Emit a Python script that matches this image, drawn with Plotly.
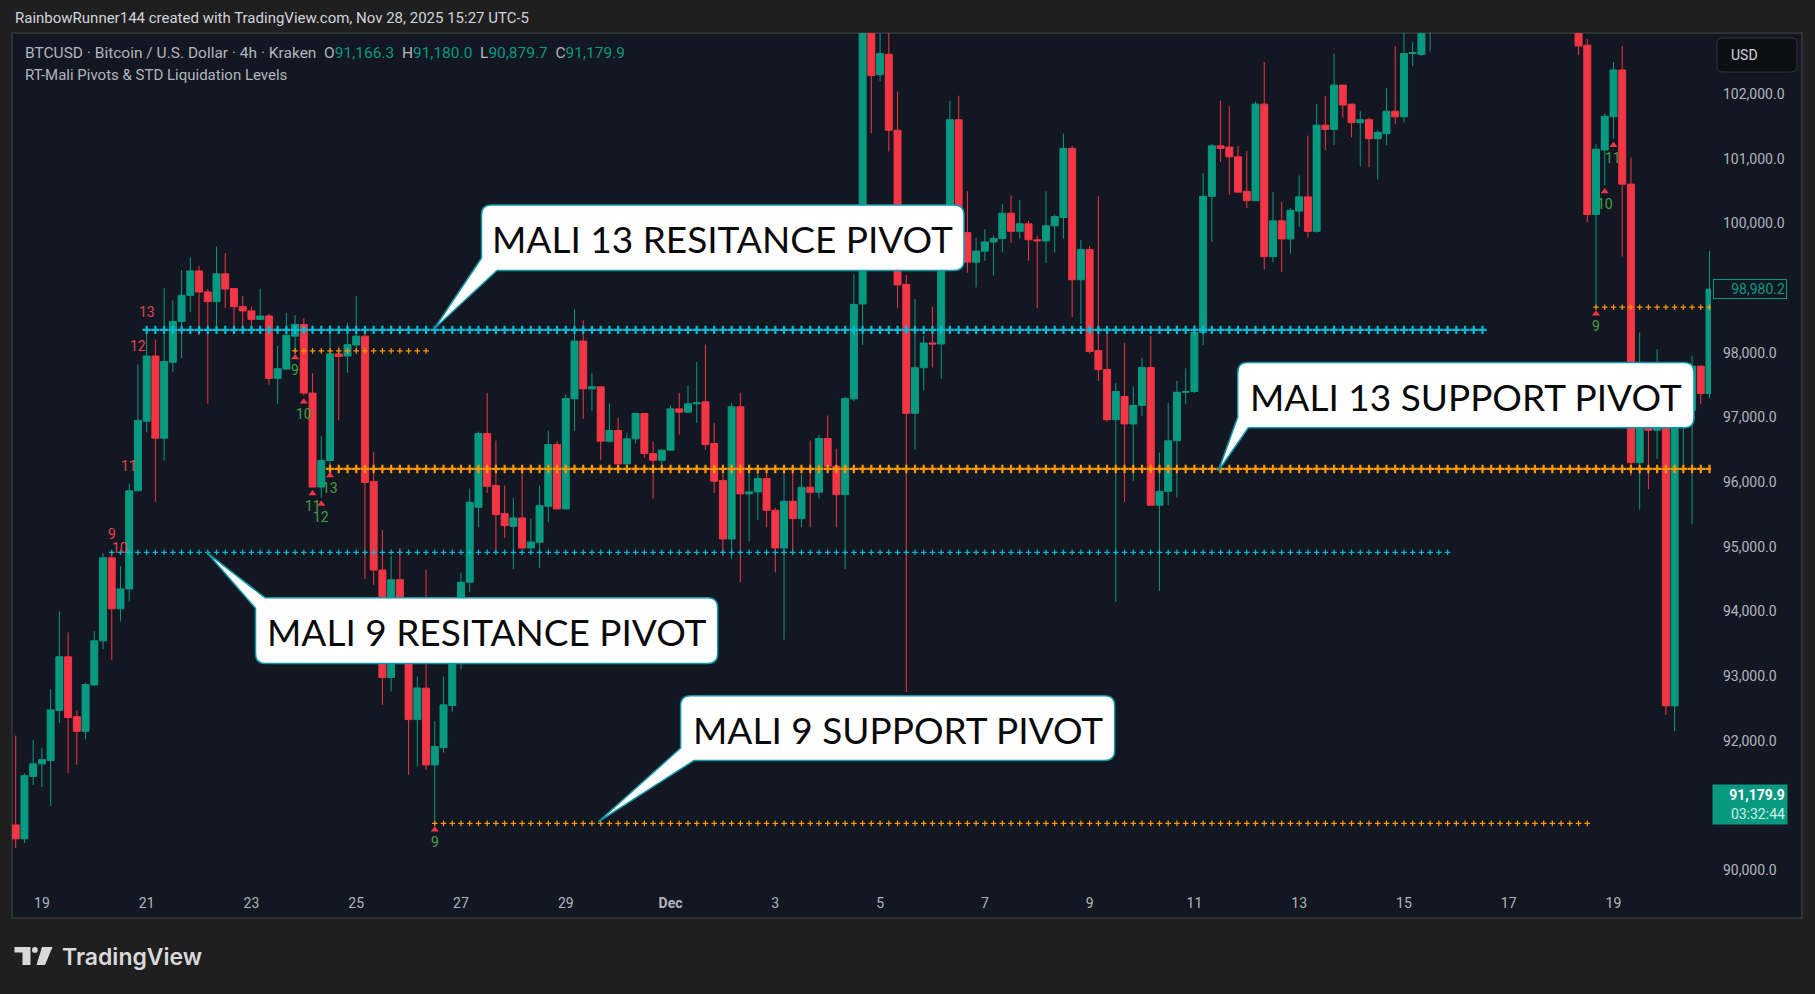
import pandas as pd
import plotly.graph_objects as go

# ---------------- data (BTCUSD 4h, Kraken) ----------------
BAR_START = "2024-11-18 12:00"      # first visible 4h bar (offset -3 from Nov 19 00:00)
FIRST_OFFSET = -3

OPEN = [
    90697, 90482, 91447, 91642, 91694, 92469, 93297, 92372, 92144, 92860,
    93544, 94828, 94039, 94346, 95864, 96939, 97948, 96678, 97851, 98483,
    98887, 99264, 98939, 98789, 99219, 98991, 98711, 98646, 98515, 98567,
    97603, 97746, 98255, 98437, 97375, 95922, 96333, 97981, 97948, 98118,
    98255, 96007, 94639, 92977, 94489, 93700, 92326, 92812, 91625, 91893,
    92544, 93199, 94450, 95609, 96750, 95945, 95511, 95315, 95444, 94980,
    95068, 95625, 96579, 95584, 97286, 98179, 97441, 97472, 96631, 96796,
    96280, 96667, 97059, 96440, 96337, 96492, 97131, 97080, 97209, 97240,
    96595, 96022, 95119, 97162, 95816, 95847, 96053, 95563, 94980, 95702,
    95434, 95919, 95842, 96672, 96244, 95805, 97286, 98754, 103200, 102299,
    102614, 101439, 99056, 97062, 97767, 98149, 98135, 99800, 101602, 99856,
    99400, 99570, 99713, 99765, 100156, 99876, 99993, 99745, 99726, 99961,
    100091, 101159, 99127, 99596, 98032, 97739, 96964, 97322, 96898, 97185,
    97771, 95641, 95856, 96638, 97387, 97400, 98312, 100417, 101198, 101179,
    101029, 100495, 100351, 101843, 99485, 100039, 99758, 100189, 100410, 99876,
    101518, 101452, 102137, 101843, 101557, 101602, 101309, 101387, 101733, 101648,
    102625, 102612, 103050, 103900, 104500, 104100, 105200, 106300, 105800, 106200,
    106900, 106500, 107300, 106800, 105900, 106200, 105600, 104800, 105400, 104900,
    102755, 100136, 101133, 101648, 102371, 100605, 96300, 97100, 96800, 97300,
    92539, 97000, 97107, 97791, 97368,
]
HIGH = [
    92078, 91492, 92013, 91890, 92795, 94000, 93675, 92469, 92900, 93694,
    94900, 94913, 94700, 95974, 97818, 98352, 98202, 98997, 98808, 99277,
    99473, 99343, 98984, 99642, 99538, 98991, 98873, 98711, 98984, 98600,
    98105, 98613, 98580, 98528, 97681, 96711, 98418, 98092, 98463, 98873,
    98300, 96463, 95258, 94854, 94979, 93900, 92993, 94644, 92307, 92993,
    93450, 94600, 95898, 96780, 97379, 96641, 95945, 95754, 96192, 95434,
    95945, 96796, 96630, 97353, 98669, 98499, 97689, 97472, 97214, 96992,
    96760, 97070, 97070, 96621, 96512, 97183, 97379, 97493, 97854, 98127,
    96915, 96130, 97224, 97379, 96270, 96192, 96177, 95600, 96177, 96177,
    96115, 96641, 96724, 97028, 96512, 97317, 99210, 103500, 103900, 103300,
    103100, 102039, 99200, 98828, 98260, 98710, 99950, 101895, 101973, 100495,
    99778, 99908, 99811, 100299, 100430, 100364, 100039, 99811, 100495, 100137,
    101387, 101198, 99746, 99648, 100417, 98325, 97530, 98149, 97478, 97921,
    98260, 96455, 97224, 97563, 97758, 98423, 100775, 101231, 101895, 101811,
    101198, 101114, 101882, 102495, 100482, 100332, 100234, 100742, 101355, 101843,
    101973, 102625, 102137, 101843, 101733, 101635, 101440, 102091, 102742, 103100,
    102800, 103200, 104300, 105000, 104900, 105600, 106500, 106600, 106700, 107200,
    107500, 107800, 108200, 107100, 106600, 106500, 105900, 105800, 105700, 105700,
    102850, 101224, 101700, 102495, 102742, 101016, 98312, 97700, 98052, 97600,
    97300, 97600, 97950, 97800, 99569,
]
LOW = [
    90339, 90417, 91316, 91284, 90990, 92274, 91499, 91629, 92020, 92847,
    93414, 93251, 93844, 94150, 95864, 96769, 95694, 96333, 97701, 97916,
    98626, 98274, 97212, 98418, 98691, 98385, 98385, 98385, 98515, 97505,
    97212, 97733, 98027, 97343, 95922, 95759, 96202, 96952, 97688, 98027,
    94495, 94411, 92554, 92762, 93300, 91475, 91600, 91548, 90722, 91816,
    92450, 93100, 94300, 95300, 95831, 94928, 95135, 94655, 94964, 94964,
    94670, 95377, 95584, 95584, 96786, 96977, 97095, 96337, 96605, 96280,
    96280, 96595, 96373, 95743, 96259, 96492, 96734, 97070, 96915, 96502,
    95831, 94851, 94809, 94448, 95083, 95408, 95300, 94603, 93561, 94928,
    95300, 95300, 95743, 96218, 95300, 94655, 97250, 98117, 101392, 102200,
    101110, 98690, 92750, 96505, 97418, 97771, 97596, 99700, 99700, 99237,
    99009, 99420, 99192, 99550, 99700, 99765, 99420, 98690, 99387, 99550,
    99765, 98553, 98443, 97986, 97563, 96931, 94143, 95693, 96019, 97022,
    95641, 94319, 95641, 95758, 97205, 97380, 98117, 99713, 100951, 100443,
    100482, 100234, 100351, 99290, 99400, 99244, 99530, 99941, 99778, 99856,
    101133, 101211, 101635, 101329, 100886, 100866, 100677, 101211, 101537, 101557,
    102430, 102590, 102658, 103500, 103700, 104000, 105000, 105400, 105500, 105900,
    106100, 106300, 106500, 105500, 105400, 105200, 104400, 104500, 104300, 102600,
    100019, 98703, 100592, 101309, 99485, 96097, 95576, 95888, 96358, 92400,
    92146, 96227, 95348, 97205, 97300,
]
CLOSE = [
    90482, 91459, 91642, 91707, 92476, 93297, 92359, 92144, 92867, 93544,
    94828, 94039, 94346, 95864, 96952, 97948, 96678, 97864, 98483, 98887,
    99264, 98939, 98789, 99219, 98984, 98711, 98646, 98515, 98567, 97603,
    97753, 98268, 98437, 97375, 95922, 96333, 97981, 97942, 98124, 98255,
    95994, 94639, 92977, 94489, 93700, 92326, 92815, 91625, 91909, 92554,
    93199, 94450, 95687, 96750, 95934, 95496, 95325, 95444, 94980, 95073,
    95635, 96579, 95584, 97291, 98179, 97441, 97472, 96631, 96796, 96280,
    96667, 97059, 96440, 96337, 96492, 97131, 97080, 97209, 97224, 96579,
    96012, 95119, 97162, 95816, 95847, 96053, 95563, 94980, 95702, 95434,
    95919, 95842, 96672, 96244, 95805, 97291, 98747, 103200, 102285, 102625,
    101439, 99048, 97062, 97767, 98149, 98135, 99800, 101602, 99856, 99400,
    99570, 99713, 99765, 100156, 99876, 99993, 99745, 99730, 99961, 100104,
    101159, 99127, 99596, 98019, 97739, 96964, 97400, 96898, 97185, 97771,
    95641, 95856, 96638, 97387, 97400, 98312, 100417, 101198, 101159, 101029,
    100482, 100351, 101843, 99485, 100039, 99758, 100202, 100410, 99876, 101518,
    101452, 102137, 101830, 101557, 101602, 101309, 101407, 101733, 101648, 102625,
    102640, 103050, 103900, 104500, 104100, 105200, 106300, 105800, 106200, 106900,
    106500, 107300, 106800, 105900, 106200, 105600, 104800, 105400, 104900, 102742,
    100136, 101146, 101654, 102371, 100605, 96300, 97100, 96800, 97300, 92539,
    97000, 97107, 97791, 97368, 98980,
]

# TD-style counts (bar offsets from Nov 19 00:00)
RED_COUNT_BARS = [8, 9, 10, 11, 12]
RED_COUNT_TEXT = ["9", "10", "11", "12", "13"]
GREEN_COUNT_BARS = [29, 30, 31, 32, 33, 45, 178, 179, 180]
GREEN_COUNT_TEXT = ["9", "10", "11", "12", "13", "9", "9", "10", "11"]

# pivot levels: start bar (level taken from that bar), end bar
PIVOT_FROM = [12, 8, 33, 29, 45, 178]
PIVOT_TO = [165, 161, 191, 44, 177, 191]
PIVOT_SIDE = ["high", "high", "low", "low", "low", "low"]
PIVOT_KIND = ["13", "9", "13", "9", "9", "9"]

DAY_TICKS = ["2024-11-19", "2024-11-21", "2024-11-23", "2024-11-25", "2024-11-27",
             "2024-11-29", "2024-12-01", "2024-12-03", "2024-12-05", "2024-12-07",
             "2024-12-09", "2024-12-11", "2024-12-13", "2024-12-15", "2024-12-17",
             "2024-12-19"]
DAY_LABELS = ["19", "21", "23", "25", "27", "29", "<b>Dec</b>", "3", "5", "7",
              "9", "11", "13", "15", "17", "19"]
PRICE_TICKS = [90000, 92000, 93000, 94000, 95000, 96000, 97000, 98000,
               100000, 101000, 102000]

CALLOUT_TEXT = ["MALI 13 RESITANCE PIVOT", "MALI 13 SUPPORT PIVOT",
                "MALI 9 RESITANCE PIVOT", "MALI 9 SUPPORT PIVOT"]

LAST_PRICE = "98,980.2"
CUR_PRICE = "91,179.9"
CUR_PRICE_VALUE = 91179.9
COUNTDOWN = "03:32:44"

# ---------------- style / geometry ----------------
W, H = 1815, 994
PL, PR, PT, PB = 12, 1711, 33, 886
PW, PH = PR - PL, PB - PT
YMIN, YMAX = 89753, 102943
X_T0 = 41.9          # pixel of Nov 19 00:00 bar
BAR_PX = 8.731       # pixels per 4h bar
PPU = PH / (YMAX - YMIN)

GREEN = "#089981"
RED = "#f23645"
CYAN = "#00bcd4"
ORANGE = "#ff9800"
BG = "#131722"
OUTER = "#1f1f1f"
TXT = "#b2b5be"

times = pd.date_range(BAR_START, periods=len(OPEN), freq="4h")
t0 = pd.Timestamp("2024-11-19 00:00")
xr0 = t0 + pd.Timedelta(hours=4 * (PL - X_T0) / BAR_PX)
xr1 = t0 + pd.Timedelta(hours=4 * (PR - X_T0) / BAR_PX)


def k(bar):
    return bar - FIRST_OFFSET


def fx(x):
    return (x - PL) / PW


def fy(y):
    return (PB - y) / PH


def P(x, y):
    return f"{fx(x):.5f},{fy(y):.5f}"


fig = go.Figure()

fig.add_trace(go.Candlestick(
    x=times, open=OPEN, high=HIGH, low=LOW, close=CLOSE,
    increasing=dict(line=dict(color=GREEN, width=1), fillcolor=GREEN),
    decreasing=dict(line=dict(color=RED, width=1), fillcolor=RED),
    whiskerwidth=0, showlegend=False, hoverinfo="skip",
))

# pivot lines made of crosses
for a, b, side, kind in zip(PIVOT_FROM, PIVOT_TO, PIVOT_SIDE, PIVOT_KIND):
    level = HIGH[k(a)] if side == "high" else LOW[k(a)]
    col = CYAN if side == "high" else ORANGE
    xs = times[k(a):k(b) + 1]
    big = kind == "13"
    fig.add_trace(go.Scatter(
        x=xs, y=[level] * len(xs), mode="markers", showlegend=False, hoverinfo="skip",
        marker=dict(symbol="cross-thin", size=6 if big else 4, color=col,
                    line=dict(width=2.2 if big else 1.2, color=col)),
    ))

# triangles under green counts
tri_x = [times[k(b)] for b in GREEN_COUNT_BARS]
tri_y = [LOW[k(b)] - 6.5 / PPU for b in GREEN_COUNT_BARS]
fig.add_trace(go.Scatter(x=tri_x, y=tri_y, mode="markers", showlegend=False, hoverinfo="skip",
                         marker=dict(symbol="triangle-up", size=7, color=RED)))

ann = []
for b, t in zip(RED_COUNT_BARS, RED_COUNT_TEXT):
    ann.append(dict(x=times[k(b)], y=HIGH[k(b)], xref="x", yref="y", text=t, showarrow=False,
                    yshift=18, font=dict(family="Roboto", size=14, color="#e5444f")))
for b, t in zip(GREEN_COUNT_BARS, GREEN_COUNT_TEXT):
    ann.append(dict(x=times[k(b)], y=LOW[k(b)], xref="x", yref="y", text=t, showarrow=False,
                    yshift=-19, font=dict(family="Roboto", size=14, color="#43a047")))

shapes = []
# chart panel
shapes.append(dict(type="rect", xref="paper", yref="paper", x0=fx(12), x1=fx(1802),
                   y0=fy(918), y1=fy(33), fillcolor=BG, line=dict(color="#2f3035", width=2),
                   layer="below"))


def rounded_rect(x0, y0, x1, y1, r):
    return (f"M {P(x0 + r, y0)} L {P(x1 - r, y0)} Q {P(x1, y0)} {P(x1, y0 + r)} "
            f"L {P(x1, y1 - r)} Q {P(x1, y1)} {P(x1 - r, y1)} L {P(x0 + r, y1)} "
            f"Q {P(x0, y1)} {P(x0, y1 - r)} L {P(x0, y0 + r)} Q {P(x0, y0)} {P(x0 + r, y0)} Z")


def callout(x0, y0, x1, y1, r, corner, bx, by, tx, ty):
    if corner == "bl":
        return (f"M {P(x0 + r, y0)} L {P(x1 - r, y0)} Q {P(x1, y0)} {P(x1, y0 + r)} "
                f"L {P(x1, y1 - r)} Q {P(x1, y1)} {P(x1 - r, y1)} L {P(bx, y1)} "
                f"L {P(tx, ty)} L {P(x0, by)} L {P(x0, y0 + r)} Q {P(x0, y0)} {P(x0 + r, y0)} Z")
    return (f"M {P(bx, y0)} L {P(x1 - r, y0)} Q {P(x1, y0)} {P(x1, y0 + r)} "
            f"L {P(x1, y1 - r)} Q {P(x1, y1)} {P(x1 - r, y1)} L {P(x0 + r, y1)} "
            f"Q {P(x0, y1)} {P(x0, y1 - r)} L {P(x0, by)} L {P(tx, ty)} Z")


CALLOUT_GEOM = [
    (481.5, 205, 964, 270.5, "bl", 497, 258, 434, 329),
    (1237.7, 362.5, 1694, 427.7, "bl", 1248.3, 417, 1218.3, 471),
    (255.5, 597.7, 717.7, 663.5, "tl", 265, 608.3, 206.7, 552.3),
    (680.6, 695.7, 1114.7, 760.5, "bl", 694, 748, 598.4, 821.8),
]
for (x0, y0, x1, y1, c, bx, by, tx, ty), text in zip(CALLOUT_GEOM, CALLOUT_TEXT):
    shapes.append(dict(type="path", xref="paper", yref="paper", layer="above",
                       path=callout(x0, y0, x1, y1, 10, c, bx, by, tx, ty),
                       fillcolor="#ffffff", line=dict(color="#1096a8", width=1.5)))
    ann.append(dict(x=fx((x0 + x1) / 2), y=fy((y0 + y1) / 2 + 1), xref="paper", yref="paper",
                    text=text, showarrow=False, xanchor="center", yanchor="middle",
                    font=dict(family="Lato", size=37, color="#0a0a0a")))

# USD box
shapes.append(dict(type="path", xref="paper", yref="paper", layer="above",
                   path=rounded_rect(1717, 38, 1797, 72, 6), fillcolor="#0d0e11",
                   line=dict(color="#34363c", width=1)))
ann.append(dict(x=fx(1729), y=fy(55), xref="paper", yref="paper", text="USD", showarrow=False,
                xanchor="left", yanchor="middle", font=dict(family="Roboto", size=14, color="#d1d4dc")))

# last bar price label
ann.append(dict(x=fx(1750.3), y=CLOSE[-1], xref="paper", yref="y", text=LAST_PRICE, showarrow=False,
                xanchor="center", yanchor="middle", width=70, height=16, bordercolor=GREEN,
                borderwidth=1, borderpad=1, bgcolor=BG, align="right",
                font=dict(family="Roboto", size=14, color=GREEN)))
# current price label
ann.append(dict(x=fx(1750), y=CUR_PRICE_VALUE, xref="paper", yref="y",
                text=f"<b>{CUR_PRICE}</b><br><span style='color:#c9efe5'>{COUNTDOWN}</span>",
                showarrow=False, xanchor="center", yanchor="top", yshift=10, width=70, height=35,
                bgcolor=GREEN, borderpad=2, align="right",
                font=dict(family="Roboto", size=14, color="#ffffff")))

# header & legend text
ann.append(dict(x=fx(13), y=fy(18), xref="paper", yref="paper", showarrow=False, xanchor="left",
                yanchor="middle", text="RainbowRunner144 created with TradingView.com, Nov 28, 2025 15:27 UTC-5",
                font=dict(family="Roboto", size=15, color="#d1d4dc")))
sp = "\u00a0\u00a0"
leg = ("BTCUSD · Bitcoin / U.S. Dollar · 4h · Kraken" + sp +
       f"O<span style='color:{GREEN}'>91,166.3</span>{sp}H<span style='color:{GREEN}'>91,180.0</span>{sp}"
       f"L<span style='color:{GREEN}'>90,879.7</span>{sp}C<span style='color:{GREEN}'>91,179.9</span>")
ann.append(dict(x=fx(23), y=fy(53), xref="paper", yref="paper", showarrow=False, xanchor="left",
                yanchor="middle", text=leg, font=dict(family="Roboto", size=15.5, color=TXT)))
ann.append(dict(x=fx(23), y=fy(75), xref="paper", yref="paper", showarrow=False, xanchor="left",
                yanchor="middle", text="RT-Mali Pivots & STD Liquidation Levels",
                font=dict(family="Roboto", size=15, color=TXT)))

# TradingView logo
shapes.append(dict(type="path", xref="paper", yref="paper", layer="above", fillcolor="#d9d9d9",
                   line=dict(width=0),
                   path=(f"M {P(14.5, 947)} L {P(30.5, 947)} L {P(30.5, 965)} L {P(22.5, 965)} "
                         f"L {P(22.5, 952.5)} L {P(14.5, 952.5)} Z")))
shapes.append(dict(type="circle", xref="paper", yref="paper", layer="above", fillcolor="#d9d9d9",
                   line=dict(width=0), x0=fx(32), x1=fx(37.8), y0=fy(952.8), y1=fy(947)))
shapes.append(dict(type="path", xref="paper", yref="paper", layer="above", fillcolor="#d9d9d9",
                   line=dict(width=0),
                   path=f"M {P(42, 947)} L {P(52.5, 947)} L {P(45, 965)} L {P(36.5, 965)} Z"))
ann.append(dict(x=fx(60), y=fy(957), xref="paper", yref="paper", showarrow=False, xanchor="left",
                yanchor="middle", text="TradingView",
                font=dict(family="Inter", size=23, color="#d9d9d9", weight=600)))

fig.update_layout(
    width=W, height=H,
    margin=dict(l=PL, r=W - PR, t=PT, b=H - PB),
    paper_bgcolor=OUTER, plot_bgcolor="rgba(0,0,0,0)",
    showlegend=False, boxgap=0.2, boxgroupgap=0,
    shapes=shapes, annotations=ann,
    xaxis=dict(type="date", range=[str(xr0), str(xr1)], rangeslider=dict(visible=False),
               showgrid=False, zeroline=False, showline=False, tickvals=DAY_TICKS,
               ticktext=DAY_LABELS, ticks="", ticklabelstandoff=7,
               tickfont=dict(family="Roboto", size=14, color=TXT), fixedrange=True),
    yaxis=dict(side="right", range=[YMIN, YMAX], showgrid=False, zeroline=False, showline=False,
               tickvals=PRICE_TICKS, tickformat=",.1f", ticks="", ticklabelstandoff=11,
               tickfont=dict(family="Roboto", size=14, color=TXT), fixedrange=True),
    font=dict(family="Roboto"),
)

fig.write_html("out.html", config={"displayModeBar": False}, post_script=(
    "document.body.style.margin='0px';"
    "document.body.style.backgroundColor='#1f1f1f';"
    "document.documentElement.style.backgroundColor='#1f1f1f';"))
